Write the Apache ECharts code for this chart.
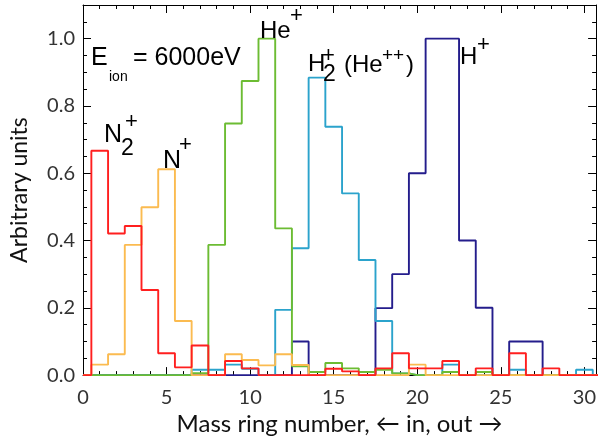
<!DOCTYPE html>
<html>
<head>
<meta charset="utf-8">
<title>Mass ring histogram</title>
<script src="https://cdn.jsdelivr.net/npm/echarts@6/dist/echarts.min.js"></script>
<style>
    html, body { margin: 0; padding: 0; background: #fff; }
    #chart { width: 599px; height: 441px; }
</style>
</head>
<body>
<div id="chart"></div>
<script>
'use strict';

// mass ring bins 0..31 (bin k spans k-0.5 .. k+0.5)
var rings = [];
for (var i = 0; i <= 31; i++) rings.push(i);

var hPlus = [0, 0, 0, 0, 0, 0, 0, 0, 0, 0, 0, 0, 0, 0.10, 0, 0,
    0, 0, 0.199, 0.30, 0.60, 1.0, 1.0, 0.40, 0.20, 0, 0.10, 0.10, 0, 0, 0, 0];
var h2Plus = [0, 0, 0, 0, 0, 0, 0, 0.016, 0.016, 0.031, 0.019, 0, 0.194, 0.377, 0.884, 0.738,
    0.54, 0.342, 0.161, 0.005, 0, 0, 0.031, 0, 0, 0, 0.016, 0, 0, 0, 0.016, 0];
var hePlus = [0, 0, 0, 0, 0, 0, 0, 0.006, 0.387, 0.748, 0.874, 1.0, 0.436, 0.026, 0.009, 0.036,
    0.02, 0.009, 0.016, 0.005, 0, 0, 0.009, 0, 0.009, 0, 0, 0, 0, 0, 0, 0];
var nPlus = [0, 0.031, 0.062, 0.387, 0.499, 0.612, 0.161, 0, 0, 0.062, 0.045, 0.029, 0.062, 0.03, 0, 0,
    0, 0, 0, 0, 0.031, 0, 0, 0, 0, 0, 0, 0, 0, 0, 0, 0];
var n2Plus = [0, 0.667, 0.421, 0.443, 0.253, 0.065, 0.023, 0.088, 0, 0.042, 0.02, 0, 0, 0, 0, 0.019,
    0.011, 0, 0.02, 0.065, 0.02, 0.02, 0.042, 0, 0.02, 0, 0.065, 0, 0.02, 0, 0, 0];

var xTicks = [0, 5, 10, 15, 20, 25, 30];
var yTicks = [0.0, 0.2, 0.4, 0.6, 0.8, 1.0];

var AXIS_FONT = 'Lato, "Open Sans", sans-serif';
var NOTE_FONT = '"Liberation Sans", Arial, sans-serif';

function pairs(ys) {
    return rings.map(function(x, k) { return [x, ys[k]]; });
}

function stepSeries(name, ys, color) {
    return {
        name: name,
        type: 'line',
        step: 'middle',
        data: pairs(ys),
        symbol: 'none',
        clip: true,
        lineStyle: { color: color, width: 1.9 },
        animation: false
    };
}

function xAxisDef(pos) {
    return {
        type: 'value',
        position: pos,
        min: 0,
        max: 30.7,
        interval: 5,
        axisLine: { show: true, onZero: false, lineStyle: { color: '#000', width: 1 } },
        axisTick: { show: true, inside: true, length: 8, lineStyle: { color: '#000' } },
        minorTick: { show: true, splitNumber: 5, length: 4, lineStyle: { color: '#000' } },
        splitLine: { show: false },
        axisLabel: {
            show: pos === 'bottom',
            showMaxLabel: false,
            margin: 12,
            fontFamily: AXIS_FONT,
            fontSize: 20,
            color: '#333',
            formatter: function(v) { return xTicks.indexOf(v) >= 0 ? String(v) : ''; }
        }
    };
}

function yAxisDef(pos) {
    return {
        type: 'value',
        position: pos,
        min: 0,
        max: 1.1,
        interval: 0.2,
        axisLine: { show: true, onZero: false, lineStyle: { color: '#000', width: 1 } },
        axisTick: { show: true, inside: true, length: 8, lineStyle: { color: '#000' } },
        minorTick: { show: true, splitNumber: 4, length: 4, lineStyle: { color: '#000' } },
        splitLine: { show: false },
        axisLabel: {
            show: pos === 'left',
            showMaxLabel: false,
            margin: 8,
            padding: [0, 0, 6, 0],
            fontFamily: AXIS_FONT,
            fontSize: 20,
            color: '#333',
            formatter: function(v) {
                for (var j = 0; j < yTicks.length; j++) {
                    if (Math.abs(yTicks[j] - v) < 1e-6) return yTicks[j].toFixed(1);
                }
                return '';
            }
        }
    };
}

function note(x, y, text, size) {
    return {
        type: 'text',
        z: 100,
        style: {
            x: x,
            y: y,
            text: text,
            fill: '#000',
            font: size + 'px ' + NOTE_FONT,
            align: 'left',
            verticalAlign: 'middle'
        }
    };
}

var chart = echarts.init(document.getElementById('chart'), null, { renderer: 'canvas' });

var xBottom = xAxisDef('bottom');
xBottom.name = 'Mass ring number, \u2190 in, out \u2192';
xBottom.nameLocation = 'middle';
xBottom.nameGap = 34;
xBottom.nameTextStyle = { fontFamily: AXIS_FONT, fontSize: 24, color: '#111' };

var yLeft = yAxisDef('left');
yLeft.name = 'Arbitrary units';
yLeft.nameLocation = 'middle';
yLeft.nameGap = 52;
yLeft.nameTextStyle = { fontFamily: AXIS_FONT, fontSize: 23, color: '#111' };

chart.setOption({
    backgroundColor: '#fff',
    animation: false,
    grid: { left: 83, right: 1, top: 5, bottom: 63, containLabel: false },
    xAxis: [xBottom, xAxisDef('top')],
    yAxis: [yLeft, yAxisDef('right')],
    series: [
        stepSeries('H+', hPlus, '#241d8c'),
        stepSeries('H2+', h2Plus, '#2ba3cc'),
        stepSeries('He+', hePlus, '#6cbc33'),
        stepSeries('N+', nPlus, '#fbbb50'),
        stepSeries('N2+', n2Plus, '#ff1f1f')
    ],
    graphic: [
        note(91, 58, 'E', 25),
        note(109, 77, 'ion', 14),
        note(133, 58, '= 6000eV', 25),

        note(104, 135, 'N', 25),
        note(121, 149, '2', 23),
        note(125, 122, '+', 22),

        note(163, 161, 'N', 25),
        note(179, 145, '+', 22),

        note(260, 31, 'He', 24),
        note(290, 16, '+', 22),

        note(308, 64, 'H', 24),
        note(323, 75, '2', 23),
        note(322, 56, '+', 22),
        note(344, 65, '(He', 24),
        note(382, 56, '++', 19),
        note(406, 65, ')', 24),

        note(460, 57, 'H', 24),
        note(477, 45, '+', 22)
    ]
});
</script>
</body>
</html>
